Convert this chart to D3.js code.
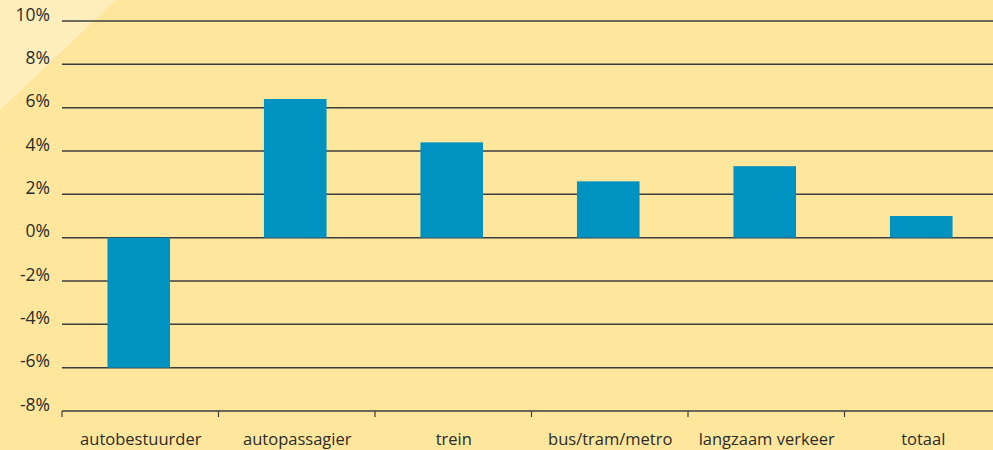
<!DOCTYPE html>
<html>
<head>
<meta charset="utf-8">
<script src="https://cdnjs.cloudflare.com/ajax/libs/d3/7.8.5/d3.min.js"></script>
<style>
  body { margin: 0; background: #fee79c; }
  svg { display: block; }
  text { font-family: "Open Sans", sans-serif; fill: #2b2b2b; }
</style>
</head>
<body>
<div id="container"></div>
<script>
// categories and values (percent change)
const categories = ["autobestuurder", "autopassagier", "trein", "bus/tram/metro", "langzaam verkeer", "totaal"];
const values = [-6.0, 6.4, 4.4, 2.6, 3.3, 1.0];
const yTicks = [10, 8, 6, 4, 2, 0, -2, -4, -6, -8];

// canvas
const w = 993;
const h = 450;
const left = 62;
const bandW = 156.5;

const svg = d3.select("#container")
              .append("svg")
              .attr("width", w)
              .attr("height", h);

// background + light corner
svg.append("rect")
   .attr("width", w)
   .attr("height", h)
   .attr("fill", "#fee79c");
svg.append("path")
   .attr("d", "M0,0 L116,0 L0,110 Z")
   .attr("fill", "#feeebb");

// scales
const xScale = d3.scaleBand()
                 .domain(categories)
                 .range([left, left + bandW * categories.length])
                 .paddingInner(0.6)
                 .paddingOuter(0.3)
                 .align(0.484);

const yScale = d3.scaleLinear()
                 .domain([-8, 10])
                 .range([411, 21]);

// gridlines
svg.append("g")
   .selectAll("line")
   .data(yTicks.filter(d => d !== -8))
   .enter()
   .append("line")
   .attr("x1", left)
   .attr("x2", w)
   .attr("y1", d => yScale(d))
   .attr("y2", d => yScale(d))
   .attr("stroke", "#3d3d3d")
   .attr("stroke-width", 1.5);

// y labels
svg.append("g")
   .selectAll("text")
   .data(yTicks)
   .enter()
   .append("text")
   .attr("x", 50)
   .attr("y", d => yScale(d))
   .attr("dy", "-0.02em")
   .attr("text-anchor", "end")
   .style("font-size", "17.5px")
   .text(d => d + "%");

// bars
svg.append("g")
   .selectAll("rect")
   .data(values)
   .enter()
   .append("rect")
   .attr("x", (d, i) => xScale(categories[i]))
   .attr("y", d => yScale(Math.max(d, 0)))
   .attr("width", xScale.bandwidth())
   .attr("height", d => Math.abs(yScale(d) - yScale(0)))
   .attr("fill", "#0092c0");

// x axis labels, centred in each category slot
const xLabel = d3.scalePoint()
                 .domain(categories)
                 .range([left + bandW / 2, left + bandW * (categories.length - 0.5)]);
const xAxis = d3.axisBottom(xLabel).tickSize(0).tickPadding(0);
const gx = svg.append("g")
   .attr("transform", "translate(0," + yScale(-8) + ")")
   .call(xAxis);
gx.select(".domain").remove();
gx.selectAll("text")
  .attr("y", 22)
  .attr("fill", "#2b2b2b")
  .style("font-family", "'Open Sans', sans-serif")
  .style("font-size", "16.5px");

svg.append("line")
   .attr("x1", left)
   .attr("x2", w)
   .attr("y1", yScale(-8))
   .attr("y2", yScale(-8))
   .attr("stroke", "#3d3d3d")
   .attr("stroke-width", 1.5);

svg.append("g")
   .selectAll("line")
   .data(d3.range(categories.length + 1))
   .enter()
   .append("line")
   .attr("x1", i => left + i * bandW)
   .attr("x2", i => left + i * bandW)
   .attr("y1", yScale(-8))
   .attr("y2", yScale(-8) + 6)
   .attr("stroke", "#3d3d3d")
   .attr("stroke-width", 1.2);
</script>
</body>
</html>
